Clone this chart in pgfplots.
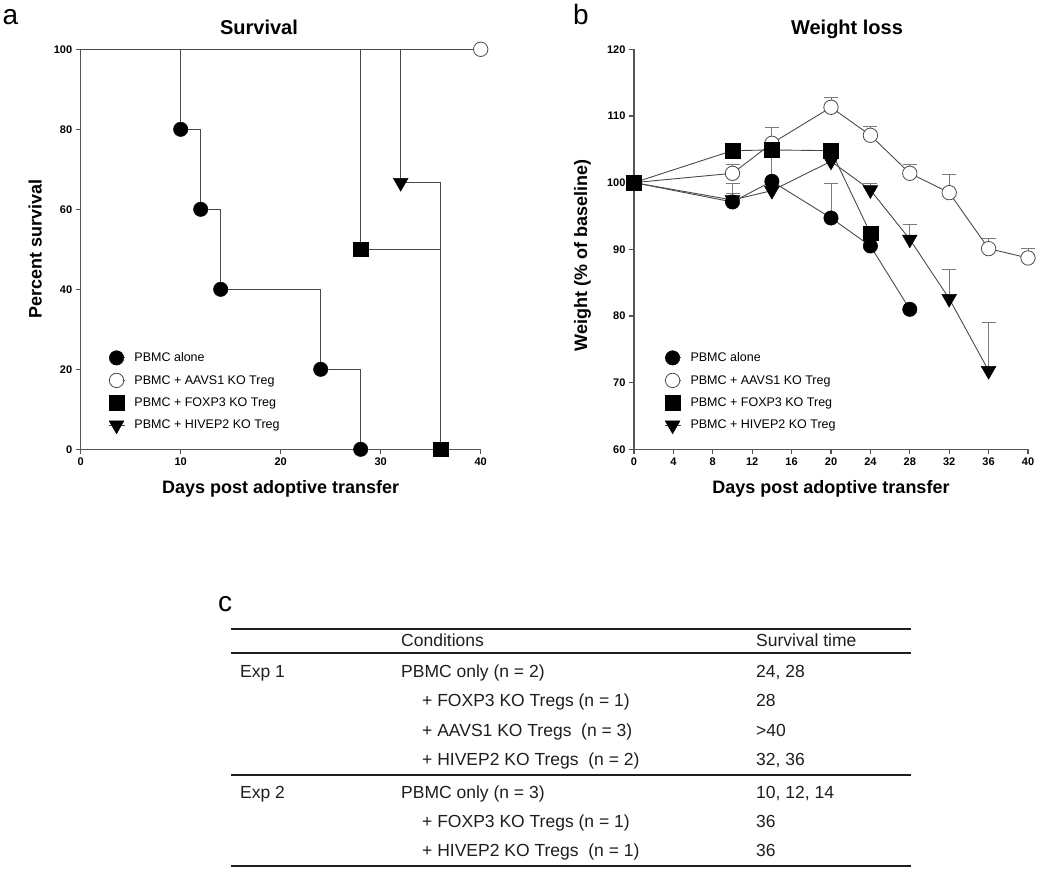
\documentclass[border=0pt]{standalone}
\usepackage{fontspec}
\setmainfont{Liberation Sans}
\usepackage{pgfplots}
\pgfplotsset{compat=1.18}

\definecolor{ln}{HTML}{4A4A4A}
\definecolor{ax}{HTML}{555555}
\definecolor{eb}{HTML}{7A7A7A}
\definecolor{tx}{HTML}{1E1E1E}

\pgfplotsset{
 gpstyle/.style={
  scale only axis,
  axis lines=left,
  axis line style={ax, line width=1.4pt, -},
  tick align=outside,
  major tick length=5pt,
  tick style={ax, line width=1.2pt},
  tick label style={font=\bfseries\fontsize{11}{13}\selectfont},
  /pgf/number format/assume math mode=true,
  label style={font=\bfseries\fontsize{18}{21}\selectfont},
  clip=false,
  legend cell align=left,
  legend style={draw=none, fill=none, font=\fontsize{12.5}{15}\selectfont, row sep=8.1pt, inner sep=0pt, nodes={inner sep=1.5pt}},
  legend image code/.code={\path (-8pt,0pt) (16pt,0pt);\draw[mark repeat=2,mark phase=2,##1] plot coordinates {(-8pt,0pt) (0pt,0pt) (8pt,0pt)};},
 },
 sPBMC/.style={ln, line width=0.9pt, mark=*, mark size=7.2pt, mark options={draw=black, fill=black, line width=0.5pt}},
 sAAVS/.style={ln, line width=0.9pt, mark=*, mark size=7.2pt, mark options={draw=ln, fill=white, line width=0.8pt}},
 sFOX/.style={ln, line width=0.9pt, mark=square*, mark size=7.4pt, mark options={draw=black, fill=black, line width=0.5pt}},
 sHIV/.style={ln, line width=0.9pt, mark=triangle*, mark size=8.5pt, mark options={draw=black, fill=black, line width=0.5pt, rotate=180}},
 ebars/.style={forget plot, only marks, mark=*, mark size=0.01pt, mark options={draw=none, fill=none},
   error bars/.cd, y dir=plus, y explicit, error mark=-,
   error bar style={eb, line width=0.9pt}, error mark options={rotate=90, eb, draw=eb, mark size=7pt, line width=0.9pt}},
}

\pgfplotstableread{
x y
0 100
10 97.1
14 100.2
20 94.7
24 90.5
28 81.0
}\wPBMC
\pgfplotstableread{
x y
0 100
10 101.4
14 105.9
20 111.3
24 107.1
28 101.4
32 98.5
36 90.1
40 88.7
}\wAAVS
\pgfplotstableread{
x y
0 100
10 104.8
14 104.9
20 104.8
24 92.4
}\wFOX
\pgfplotstableread{
x y
0 100
10 97.4
14 98.8
20 103.2
24 98.9
28 91.5
32 82.6
36 71.8
}\wHIV

\begin{document}
\begin{tikzpicture}
\path[use as bounding box] (0,0) rectangle (1050pt,-872pt);

% panel labels and titles
\node[font=\fontsize{28}{30}\selectfont] at (10.5pt,-17.5pt) {a};
\node[font=\fontsize{28}{30}\selectfont] at (581pt,-14.5pt) {b};
\node[font=\fontsize{28}{30}\selectfont] at (225pt,-604pt) {c};
\node[font=\bfseries\fontsize{20}{24}\selectfont, anchor=base] at (259pt,-35pt) {Survival};
\node[font=\bfseries\fontsize{20}{24}\selectfont, anchor=base] at (847pt,-35pt) {Weight loss};

% ---------------- panel a ----------------
\begin{axis}[gpstyle, at={(80.7pt,-449.3pt)}, anchor=south west,
  width=400pt, height=400pt,
  xmin=0, xmax=40, ymin=0, ymax=100,
  xtick={0,10,20,30,40}, ytick={0,20,40,60,80,100},
  xlabel={Days post adoptive transfer}, ylabel={Percent survival},
  xlabel style={at={(axis description cs:0.5,-0.1)}, anchor=center},
  ylabel style={at={(axis description cs:-0.114,0.5)}, anchor=center},
  legend style={at={(0.068,0.247)}, anchor=north west}]
\addlegendimage{sPBMC}\addlegendentry{PBMC alone}
\addlegendimage{sAAVS}\addlegendentry{PBMC + AAVS1 KO Treg}
\addlegendimage{sFOX}\addlegendentry{PBMC + FOXP3 KO Treg}
\addlegendimage{sHIV}\addlegendentry{PBMC + HIVEP2 KO Treg}
\addplot[sPBMC, const plot, mark indices={2,3,4,5,6}, forget plot] coordinates {(0,100)(10,80)(12,60)(14,40)(24,20)(28,0)};
\addplot[sAAVS, mark indices={2}, forget plot] coordinates {(0,100)(40,100)};
\addplot[sHIV, const plot, mark indices={2}, forget plot] coordinates {(0,100)(32,66.67)(36,0)};
\addplot[sFOX, const plot, mark indices={2,3}, forget plot] coordinates {(0,100)(28,50)(36,0)};
\end{axis}

% ---------------- panel b ----------------
\begin{axis}[gpstyle, at={(634pt,-449.3pt)}, anchor=south west,
  width=394pt, height=400pt,
  xmin=0, xmax=40, ymin=60, ymax=120,
  xtick={0,4,...,40}, ytick={60,70,...,120},
  xlabel={Days post adoptive transfer}, ylabel={Weight (\% of baseline)},
  xlabel style={at={(axis description cs:0.5,-0.1)}, anchor=center},
  ylabel style={at={(axis description cs:-0.131,0.485)}, anchor=center},
  legend style={at={(0.076,0.247)}, anchor=north west}]
\addlegendimage{sPBMC}\addlegendentry{PBMC alone}
\addlegendimage{sAAVS}\addlegendentry{PBMC + AAVS1 KO Treg}
\addlegendimage{sFOX}\addlegendentry{PBMC + FOXP3 KO Treg}
\addlegendimage{sHIV}\addlegendentry{PBMC + HIVEP2 KO Treg}
% error bars (upper only)
\addplot[ebars] coordinates {(10,101.4)+-(0,1.3) (14,105.9)+-(0,2.4) (20,111.3)+-(0,1.5) (24,107.1)+-(0,1.4) (28,101.4)+-(0,1.4) (32,98.5)+-(0,2.8) (36,90.1)+-(0,1.5) (40,88.7)+-(0,1.4)};
\addplot[ebars] coordinates {(10,97.1)+-(0,2.8) (14,100.2)+-(0,4.3) (20,94.7)+-(0,5.2)};
\addplot[ebars] coordinates {(10,97.4)+-(0,1.0) (24,98.9)+-(0,1.0) (28,91.5)+-(0,2.3) (32,82.6)+-(0,4.4) (36,71.8)+-(0,7.3)};
% series
\addplot[sAAVS, forget plot] table[x=x,y=y] {\wAAVS};
\addplot[sHIV, forget plot] table[x=x,y=y] {\wHIV};
\addplot[sPBMC, forget plot] table[x=x,y=y] {\wPBMC};
\addplot[sFOX, forget plot] table[x=x,y=y] {\wFOX};
\end{axis}

% ---------------- panel c: table ----------------
\begin{scope}[tx, every node/.style={font=\fontsize{17.5}{21}\selectfont, anchor=base west, inner sep=0pt, text=tx}]
\draw[line width=2.4pt] (231pt,-629pt) -- (911pt,-629pt);
\draw[line width=1.7pt] (231pt,-653pt) -- (911pt,-653pt);
\draw[line width=1.9pt] (231pt,-775pt) -- (911pt,-775pt);
\draw[line width=2.4pt] (231pt,-866pt) -- (911pt,-866pt);
\node at (401pt,-646.7pt) {Conditions};
\node at (756pt,-646.7pt) {Survival time};
\node at (240pt,-677.3pt) {Exp 1};
\node at (401pt,-677.3pt) {PBMC only (n = 2)};
\node at (756pt,-677.3pt) {24, 28};
\node at (422pt,-706.8pt) {+ FOXP3 KO Tregs (n = 1)};
\node at (756pt,-706.8pt) {28};
\node at (422pt,-736.3pt) {+ AAVS1 KO Tregs \ (n = 3)};
\node at (756pt,-736.3pt) {>40};
\node at (422pt,-765.8pt) {+ HIVEP2 KO Tregs \ (n = 2)};
\node at (756pt,-765.8pt) {32, 36};
\node at (240pt,-798.3pt) {Exp 2};
\node at (401pt,-798.3pt) {PBMC only (n = 3)};
\node at (756pt,-798.3pt) {10, 12, 14};
\node at (422pt,-827.5pt) {+ FOXP3 KO Tregs (n = 1)};
\node at (756pt,-827.5pt) {36};
\node at (422pt,-856.7pt) {+ HIVEP2 KO Tregs \ (n = 1)};
\node at (756pt,-856.7pt) {36};
\end{scope}
\end{tikzpicture}
\end{document}
